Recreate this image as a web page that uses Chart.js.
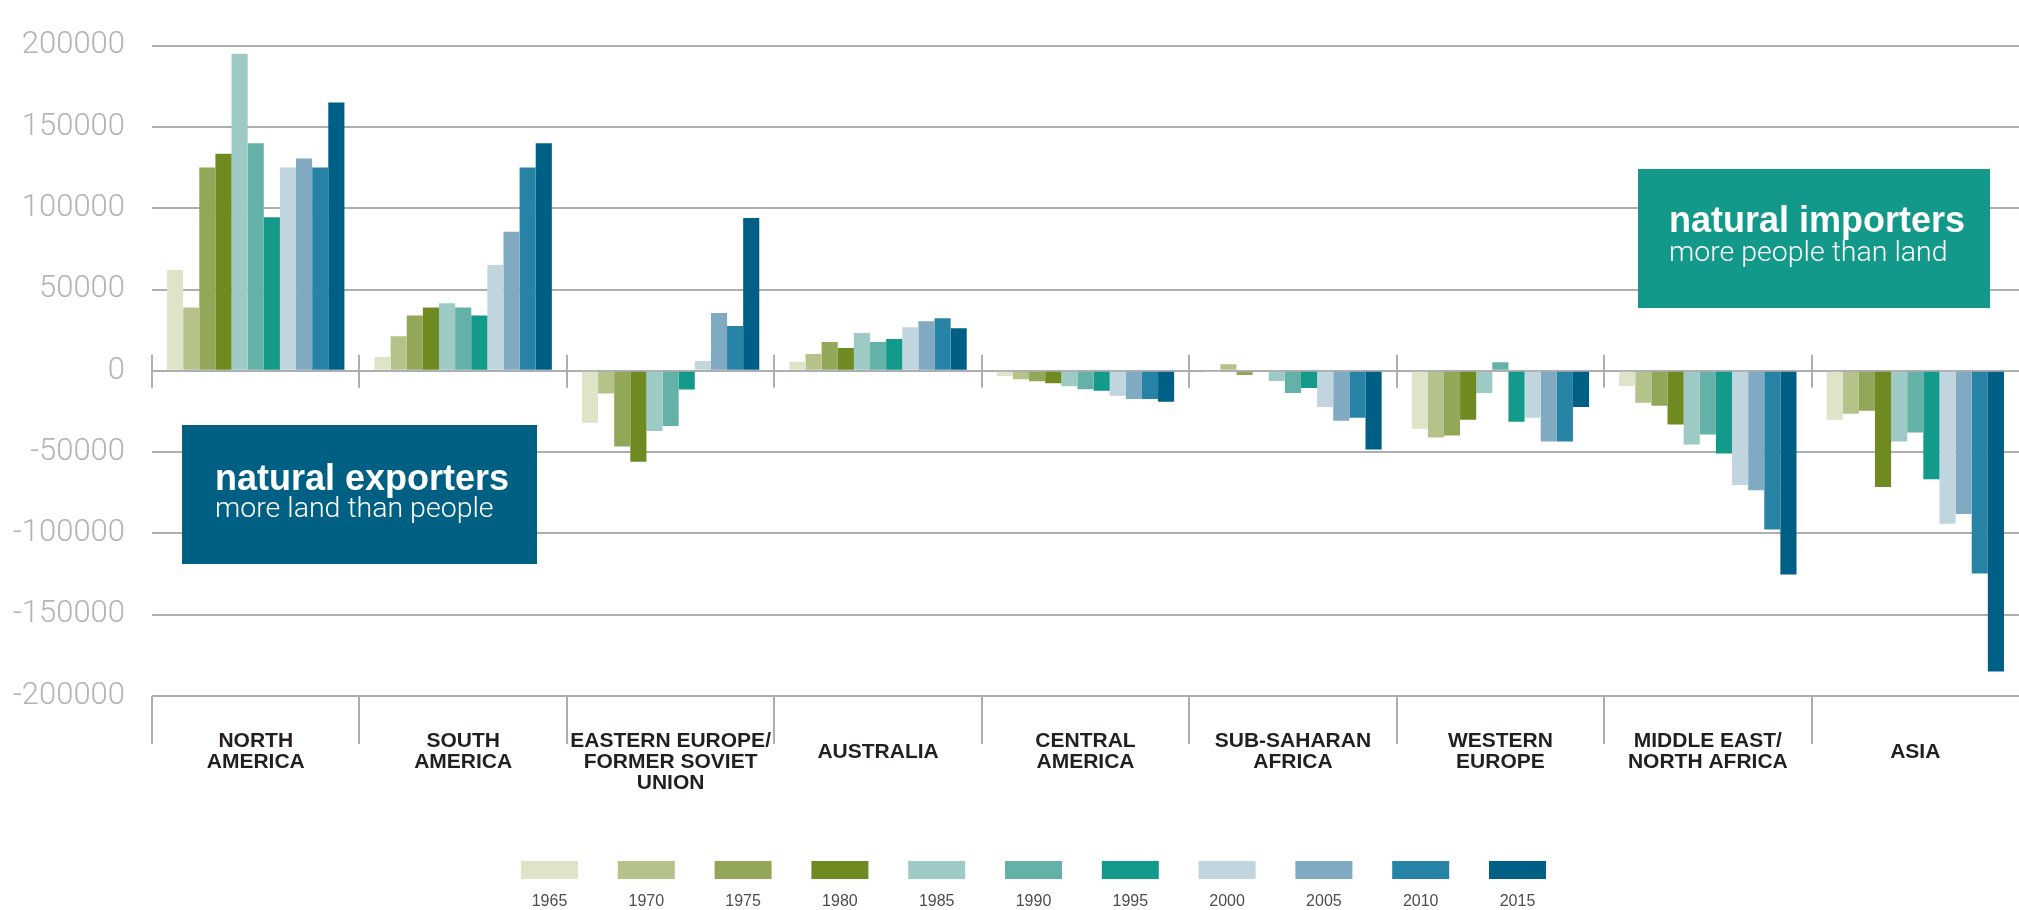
<!DOCTYPE html>
<html>
<head>
<meta charset="utf-8">
<script src="https://cdn.jsdelivr.net/npm/chart.js@4.4.1/dist/chart.umd.min.js"></script>
<style>
  html, body { margin: 0; padding: 0; background: #fff; }
  canvas { display: block; }
</style>
</head>
<body>
<canvas id="chart" width="2019" height="910"></canvas>
<script>
const regions = [
    ['NORTH', 'AMERICA'],
    ['SOUTH', 'AMERICA'],
    ['EASTERN EUROPE/', 'FORMER SOVIET', 'UNION'],
    ['AUSTRALIA'],
    ['CENTRAL', 'AMERICA'],
    ['SUB-SAHARAN', 'AFRICA'],
    ['WESTERN', 'EUROPE'],
    ['MIDDLE EAST/', 'NORTH AFRICA'],
    ['ASIA']
];
const years = ['1965', '1970', '1975', '1980', '1985', '1990', '1995', '2000', '2005', '2010', '2015'];
const yearColors = ['#dfe3c8', '#b5c38b', '#93a758', '#6e8a20', '#9ecac5', '#64b1a8',
                    '#139a8a', '#c1d5df', '#7faac1', '#2784a6', '#005f85'];

// values per year, in region order
const v1965 = [62000, 8500, -32000, 5500, -3200, -800, -35600, -9300, -30100];
const v1970 = [39000, 21300, -14000, 10400, -5200, 4000, -41000, -19700, -26400];
const v1975 = [125000, 34000, -46500, 17700, -6500, -2600, -39800, -21500, -24600];
const v1980 = [133500, 39000, -56000, 14000, -7700, 0, -30100, -33100, -71500];
const v1985 = [195000, 41500, -37000, 23200, -9500, -6300, -13600, -45300, -43500];
const v1990 = [140000, 39000, -34000, 17700, -11400, -13600, 5300, -39200, -38000];
const v1995 = [94500, 34000, -11500, 19500, -12200, -10600, -31300, -50800, -66700];
const v2000 = [125000, 65000, 6000, 26800, -15400, -22200, -28900, -70300, -94100];
const v2005 = [130500, 85500, 35500, 30500, -17300, -30700, -43500, -73400, -88000];
const v2010 = [125000, 125000, 27500, 32300, -17300, -28900, -43500, -97600, -124600];
const v2015 = [165000, 140000, 94000, 26200, -19100, -48400, -22200, -125200, -185000];
const series = [v1965, v1970, v1975, v1980, v1985, v1990, v1995, v2000, v2005, v2010, v2015];

const yTickValues = [-200000, -150000, -100000, -50000, 0, 50000, 100000, 150000, 200000];

const gridGray = '#adaeb1';

function drawBox(ctx, x, y, w, h, color, title, sub, tx, titleBase, subBase) {
    ctx.fillStyle = color;
    ctx.fillRect(x, y, w, h);
    ctx.fillStyle = '#ffffff';
    ctx.textAlign = 'left';
    ctx.textBaseline = 'alphabetic';
    ctx.font = 'bold 36px "Liberation Sans", Arial, sans-serif';
    ctx.fillText(title, tx, titleBase);
    ctx.font = '300 28.5px Roboto, "Liberation Sans", sans-serif';
    ctx.fillText(sub, tx, subBase);
}

const decorations = {
    id: 'decorations',
    afterDraw(chart) {
        const { ctx, chartArea, scales: { x, y } } = chart;
        const step = (x.right - x.left) / regions.length;
        const zero = y.getPixelForValue(0);
        ctx.save();
        ctx.strokeStyle = gridGray;
        ctx.lineWidth = 2;
        // little separators across the zero line and under the axis
        for (let i = 0; i < regions.length; i++) {
            const bx = Math.round(x.left + i * step);
            ctx.beginPath();
            ctx.moveTo(bx, zero - 16);
            ctx.lineTo(bx, zero + 17);
            ctx.moveTo(bx, chartArea.bottom);
            ctx.lineTo(bx, chartArea.bottom + 48);
            ctx.stroke();
        }

        drawBox(ctx, 182, 425, 355, 139, '#006084', 'natural exporters', 'more land than people', 215, 490, 517);
        drawBox(ctx, 1638, 169, 352, 139, '#13998a', 'natural importers', 'more people than land', 1669, 232, 261);

        // legend: swatch with the year under it
        ctx.font = '16px "Liberation Sans", Arial, sans-serif';
        ctx.textAlign = 'center';
        ctx.textBaseline = 'alphabetic';
        years.forEach((yr, i) => {
            const lx = 521 + i * 96.8;
            ctx.fillStyle = yearColors[i];
            ctx.fillRect(lx, 861, 57, 18);
            ctx.fillStyle = '#4d4d4f';
            ctx.fillText(yr, lx + 28.5, 906);
        });
        ctx.restore();
    }
};

new Chart(document.getElementById('chart'), {
    type: 'bar',
    data: {
        labels: regions,
        datasets: years.map((yr, i) => ({
            label: yr,
            data: series[i],
            backgroundColor: yearColors[i],
            borderWidth: 0,
            categoryPercentage: 0.855,
            barPercentage: 1.0
        }))
    },
    options: {
        responsive: false,
        devicePixelRatio: 1,
        animation: false,
        layout: { padding: { top: 39, right: 0, bottom: 0, left: 0 } },
        plugins: {
            legend: { display: false },
            tooltip: { enabled: false }
        },
        scales: {
            x: {
                grid: { display: false, drawTicks: false },
                border: { display: false },
                ticks: {
                    autoSkip: false,
                    maxRotation: 0,
                    padding: 35,
                    color: '#231f20',
                    font: (c) => ({
                        family: '"Liberation Sans", Arial, sans-serif',
                        size: 21,
                        weight: 'bold',
                        lineHeight: (regions[c.index] && regions[c.index].length === 1) ? 2 : 1
                    })
                },
                afterFit: (s) => { s.height = 214; }
            },
            y: {
                min: -200000,
                max: 200000,
                afterBuildTicks: (s) => { s.ticks = yTickValues.map(v => ({ value: v })); },
                grid: { color: gridGray, lineWidth: 2, drawTicks: false },
                border: { display: false },
                ticks: {
                    padding: 27,
                    color: '#b3b4b6',
                    font: { family: 'Roboto, "Liberation Sans", sans-serif', size: 31, weight: '300' },
                    callback: (v) => String(v)
                },
                afterFit: (s) => { s.width = 152; }
            }
        }
    },
    plugins: [decorations]
});
</script>
</body>
</html>
